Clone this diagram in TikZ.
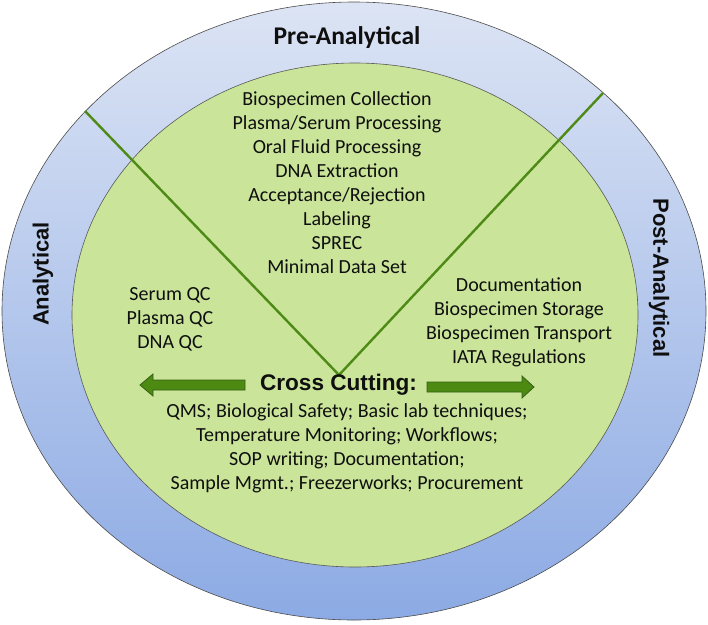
\documentclass[tikz,border=0pt]{standalone}
\usepackage{fontspec}
\setmainfont{Carlito}
\newfontfamily\arialfont{Liberation Sans}
\usetikzlibrary{shapes.geometric}
\definecolor{ringtop}{RGB}{220,228,244}
\definecolor{ringbot}{RGB}{140,170,228}
\definecolor{coregreen}{RGB}{202,228,153}
\definecolor{linegreen}{RGB}{78,138,22}
\definecolor{arrowgreen}{RGB}{76,138,18}
\definecolor{arrowedge}{RGB}{55,95,25}
\definecolor{textcol}{RGB}{15,15,15}
\begin{document}
\begin{tikzpicture}[x=1pt,y=-1pt,
  ring/.style={ellipse, draw=black!70, line width=0.6pt, top color=ringtop, bottom color=ringbot, inner sep=0pt},
  core/.style={ellipse, draw=black!65, line width=0.6pt, fill=coregreen, inner sep=0pt},
  vline/.style={draw=linegreen, line width=2.4pt, line join=miter},
  fatarrow/.style={draw=arrowedge, line width=0.8pt, fill=arrowgreen, line join=miter},
  body/.style={font=\fontsize{20}{24}\selectfont, align=center, text=textcol, inner sep=0pt},
  phase/.style={font=\arialfont\bfseries\fontsize{22}{26}\selectfont, text=textcol, inner sep=0pt},
  toptitle/.style={font=\bfseries\fontsize{25.5}{30}\selectfont, text=textcol, inner sep=0pt},
  crosstitle/.style={font=\arialfont\bfseries\fontsize{22.6}{27}\selectfont, text=textcol, inner sep=0pt}]
\useasboundingbox (0,0) rectangle (708,624);
% rings
\node[ring, minimum width=704pt, minimum height=618pt] (outer) at (354,311) {};
\node[core, minimum width=566pt, minimum height=504pt] (inner) at (355,315) {};
% V lines
\coordinate (vl) at (85,111);
\coordinate (apex) at (339,375);
\coordinate (vr) at (603,93);
\draw[vline] (vl) -- (apex) -- (vr);
% arrows
\draw[fatarrow] (245,380) -- (153,380) -- (153,374) -- (140,385) -- (153,396) -- (153,390) -- (245,390) -- cycle;
\draw[fatarrow] (427,382) -- (522,382) -- (522,376) -- (534,387) -- (522,398) -- (522,392) -- (427,392) -- cycle;
% titles
\node[toptitle] (pre) at (347,38) {Pre-Analytical};
\node[phase, rotate=90] (ana) at (43,274) {Analytical};
\node[phase, rotate=-90] (post) at (659,278) {Post-Analytical};
% text blocks
\node[body] (preitems) at (337,183) {Biospecimen Collection\\Plasma/Serum Processing\\Oral Fluid Processing\\DNA Extraction\\Acceptance/Rejection\\Labeling\\SPREC\\Minimal Data Set};
\node[body] (anaitems) at (170,319) {Serum QC\\Plasma QC\\DNA QC};
\node[body] (postitems) at (519,322) {Documentation\\Biospecimen Storage\\Biospecimen Transport\\IATA Regulations};
\node[crosstitle] (cross) at (338.5,385) {Cross Cutting:};
\node[body] (crossitems) at (347,448.5) {QMS; Biological Safety; Basic lab techniques;\\Temperature Monitoring; Workflows;\\SOP writing; Documentation;\\Sample Mgmt.; Freezerworks; Procurement};
\end{tikzpicture}
\end{document}
